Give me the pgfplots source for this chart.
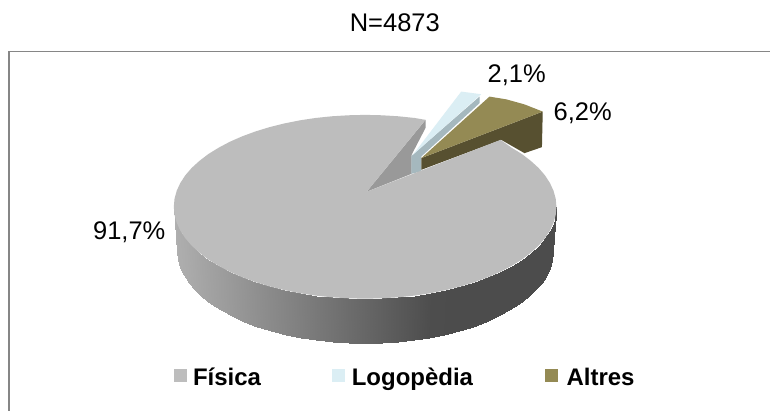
\documentclass[border=0pt]{standalone}
\usepackage{pgfplots}
\pgfplotsset{compat=1.18}
\usepackage{fontspec}
\setmainfont{Liberation Sans}
\definecolor{fis}{HTML}{BDBDBD}
\definecolor{fiswall}{HTML}{999999}
\definecolor{logo}{HTML}{DBEEF4}
\definecolor{logowall}{HTML}{A5B8BE}
\definecolor{alt}{HTML}{948A54}
\definecolor{altwall}{HTML}{575030}
\definecolor{frame}{HTML}{868686}
\begin{document}
\begin{tikzpicture}
\begin{axis}[
  scale only axis, width=771pt, height=411pt,
  xmin=0, xmax=771, ymin=0, ymax=411, y dir=reverse,
  hide axis, clip=false,
  colormap={grayscale}{gray(0cm)=(0); gray(1cm)=(1)},
  point meta min=0, point meta max=1,
]
% page extent
\addplot[draw=none, fill=white] coordinates {(0,0) (771,0) (771,411) (0,411)};
% frame (left and top edges only reach the picture)
\addplot[frame, line width=1.6pt] coordinates {(9,411) (9,51.5) (771,51.5)};
% side of the pie
\addplot[surf, shader=interp, mesh/rows=2, point meta=explicit] table[x=x, y=y, meta=m] {
x y m
174.0 207.0 .686
174.7 215.0 .685
176.9 223.0 .680
180.5 230.8 .676
185.5 238.5 .669
191.9 245.9 .659
199.7 253.0 .648
208.6 259.8 .634
218.8 266.1 .619
230.1 272.1 .602
242.4 277.5 .584
255.7 282.4 .564
269.7 286.7 .543
284.6 290.4 .521
300.0 293.5 .498
315.9 295.9 .474
332.3 297.6 .450
348.8 298.6 .425
365.5 299.0 .401
382.2 298.6 .376
398.7 297.6 .351
415.1 295.9 .327
431.0 293.5 .303
446.4 290.4 .300
461.3 286.7 .300
475.3 282.4 .300
488.6 277.5 .300
500.9 272.1 .300
512.2 266.1 .300
522.4 259.8 .300
531.3 253.0 .300
539.1 245.9 .300
545.5 238.5 .300
550.5 230.8 .300
554.1 223.0 .300
556.3 215.0 .300
557.0 207.0 .300
177.5 252.0 .686
178.2 260.0 .685
180.4 267.9 .680
183.9 275.7 .676
188.8 283.3 .669
195.1 290.7 .659
202.7 297.8 .648
211.5 304.5 .634
221.5 310.8 .619
232.6 316.7 .602
244.7 322.1 .584
257.7 327.0 .564
271.5 331.2 .543
286.1 334.9 .521
301.2 338.0 .498
316.8 340.4 .474
332.9 342.1 .450
349.1 343.2 .425
365.5 343.5 .401
381.9 343.2 .376
398.1 342.1 .351
414.2 340.4 .327
429.8 338.0 .303
444.9 334.9 .300
459.5 331.2 .300
473.3 327.0 .300
486.3 322.1 .300
498.4 316.7 .300
509.5 310.8 .300
519.5 304.5 .300
528.3 297.8 .300
535.9 290.7 .300
542.2 283.3 .300
547.1 275.7 .300
550.6 267.9 .300
552.8 260.0 .300
553.5 252.0 .300
};
% inner wall of the large slice
\addplot[draw=none, fill=fiswall] coordinates {(367,192) (426,120) (426,128) (412,155) (412,174)};
% Logopedia
\addplot[draw=none, fill=logowall] coordinates {(413,155) (480,96.7) (480,103.3) (421.7,156.7) (421.7,171.7) (411.7,174) (411.7,156.7)};
\addplot[draw=none, fill=logo] coordinates {(461.7,91.7) (481.7,94.3) (413.3,155)};
% Altres
\addplot[draw=none, fill=altwall] coordinates {(421.7,158.3) (543.3,111.7) (542.5,147.3) (525,153.3) (501.7,140) (421.7,170)};
\addplot[draw=none, fill=alt] coordinates {(490,96.7) (507,99.5) (525,104.5) (543.3,111.7) (421.7,158.3)};
% top of the large slice
\addplot[draw=none, fill=fis] coordinates {
(367,192) (426,120) (415.1,118.1) (398.7,116.4) (382.2,115.4) (365.5,115) (348.8,115.4) (332.3,116.4)
(315.9,118.1) (300,120.5) (284.6,123.6) (269.7,127.3) (255.7,131.6) (242.4,136.5) (230.1,141.9) (218.8,147.9)
(208.6,154.2) (199.7,161) (191.9,168.1) (185.5,175.5) (180.5,183.2) (176.9,191) (174.7,199) (174,207)
(174.7,215) (176.9,223) (180.5,230.8) (185.5,238.5) (191.9,245.9) (199.7,253) (208.6,259.8) (218.8,266.1)
(230.1,272.1) (242.4,277.5) (255.7,282.4) (269.7,286.7) (284.6,290.4) (300,293.5) (315.9,295.9) (332.3,297.6)
(348.8,298.6) (365.5,299) (382.2,298.6) (398.7,297.6) (415.1,295.9) (431,293.5) (446.4,290.4) (461.3,286.7)
(475.3,282.4) (488.6,277.5) (500.9,272.1) (512.2,266.1) (522.4,259.8) (531.3,253) (539.1,245.9) (545.5,238.5)
(550.5,230.8) (554.1,223) (556.3,215) (557,207) (556.3,199) (554.1,191) (550.5,183.2) (545.5,175.5)
(539.1,168.1) (531.3,161) (522.4,154.2) (512.2,147.9) (501,140)};
% legend keys
\addplot[draw=none, fill=fis] coordinates {(174,369) (187,369) (187,382) (174,382)};
\addplot[draw=none, fill=logo] coordinates {(332,369) (345,369) (345,382) (332,382)};
\addplot[draw=none, fill=alt] coordinates {(546,369) (559,369) (559,382) (546,382)};
% text
\node[anchor=base west, inner sep=0pt, font=\fontsize{25.5}{30}\selectfont] at (axis cs:350,32) {N=4873};
\node[anchor=base west, inner sep=0pt, font=\fontsize{25.5}{30}\selectfont] at (axis cs:93,240) {91,7\%};
\node[anchor=base west, inner sep=0pt, font=\fontsize{25.5}{30}\selectfont] at (axis cs:488,83) {2,1\%};
\node[anchor=base west, inner sep=0pt, font=\fontsize{25.5}{30}\selectfont] at (axis cs:554,121) {6,2\%};
\node[anchor=base west, inner sep=0pt, font=\fontsize{24}{29}\selectfont\bfseries] at (axis cs:193,386) {Física};
\node[anchor=base west, inner sep=0pt, font=\fontsize{24}{29}\selectfont\bfseries] at (axis cs:352,386) {Logopèdia};
\node[anchor=base west, inner sep=0pt, font=\fontsize{24}{29}\selectfont\bfseries] at (axis cs:567,386) {Altres};
\end{axis}
\end{tikzpicture}
\end{document}
